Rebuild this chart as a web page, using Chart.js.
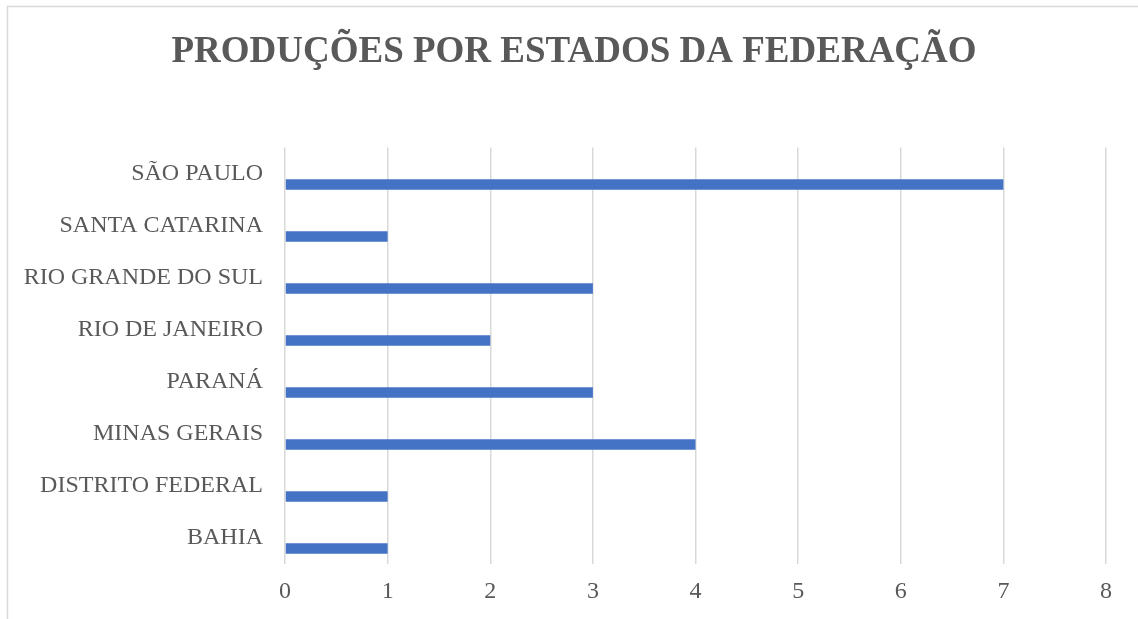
<!DOCTYPE html>
<html>
<head>
<meta charset="utf-8">
<script src="https://cdn.jsdelivr.net/npm/chart.js@4/dist/chart.umd.min.js"></script>
<style>
  html, body { margin: 0; padding: 0; background: #fff; }
  #wrap { width: 1138px; height: 619px; position: relative; }
</style>
</head>
<body>
<div id="wrap"><canvas id="chart"></canvas></div>
<script>
// dados do gráfico
const titulo = 'PRODUÇÕES POR ESTADOS DA FEDERAÇÃO';
const estados = ['SÃO PAULO', 'SANTA CATARINA', 'RIO GRANDE DO SUL', 'RIO DE JANEIRO', 'PARANÁ', 'MINAS GERAIS', 'DISTRITO FEDERAL', 'BAHIA'];
const producoes = [7, 1, 3, 2, 3, 4, 1, 1];
// série vazia (como no Excel) que empurra as barras para baixo do rótulo
const serieVazia = [null, null, null, null, null, null, null, null];
const ticksX = [0, 1, 2, 3, 4, 5, 6, 7, 8];

const corTexto = '#595959';
const corGrade = '#d9d9d9';
const fonte = "'Liberation Serif', 'Times New Roman', serif";

// borda do gráfico + título desenhados à mão
const moldura = {
  id: 'moldura',
  beforeDraw(chart) {
    const ctx = chart.ctx;
    ctx.save();
    ctx.strokeStyle = corGrade;
    ctx.lineWidth = 1.5;
    ctx.beginPath();
    ctx.moveTo(7.5, chart.height);
    ctx.lineTo(7.5, 6.5);
    ctx.lineTo(chart.width, 6.5);
    ctx.stroke();
    ctx.restore();
  },
  afterDraw(chart) {
    const ctx = chart.ctx;
    ctx.save();
    ctx.fillStyle = corTexto;
    ctx.font = 'bold 37px ' + fonte;
    ctx.textAlign = 'center';
    ctx.textBaseline = 'alphabetic';
    ctx.fillText(titulo, 574, 62);
    ctx.restore();
  }
};

const ctx = document.getElementById('chart').getContext('2d');
new Chart(ctx, {
  type: 'bar',
  data: {
    labels: estados,
    datasets: [
      { label: '', data: serieVazia, backgroundColor: '#ed7d31' },
      { label: 'Produções', data: producoes, backgroundColor: '#4472C4' }
    ]
  },
  options: {
    indexAxis: 'y',
    responsive: true,
    maintainAspectRatio: false,
    animation: false,
    categoryPercentage: 0.846,
    barPercentage: 0.477,
    layout: { padding: { top: 147.5, left: 8, right: 32, bottom: 0 } },
    plugins: {
      legend: { display: false },
      title: { display: false },
      tooltip: { enabled: false }
    },
    scales: {
      x: {
        min: 0,
        max: 8,
        afterBuildTicks: s => { s.ticks = ticksX.map(v => ({ value: v })); },
        afterFit: s => { s.height = 619 - 563.5; },
        ticks: { color: corTexto, font: { family: fonte, size: 24 }, padding: 14 },
        grid: { color: corGrade, lineWidth: 1.5, drawTicks: false },
        border: { display: false }
      },
      y: {
        afterFit: s => { s.width = 285 - 8; },
        ticks: { color: corTexto, font: { family: fonte, size: 24 }, padding: 22 },
        grid: { display: false, drawTicks: false },
        border: { display: false }
      }
    }
  },
  plugins: [moldura]
});
</script>
</body>
</html>
